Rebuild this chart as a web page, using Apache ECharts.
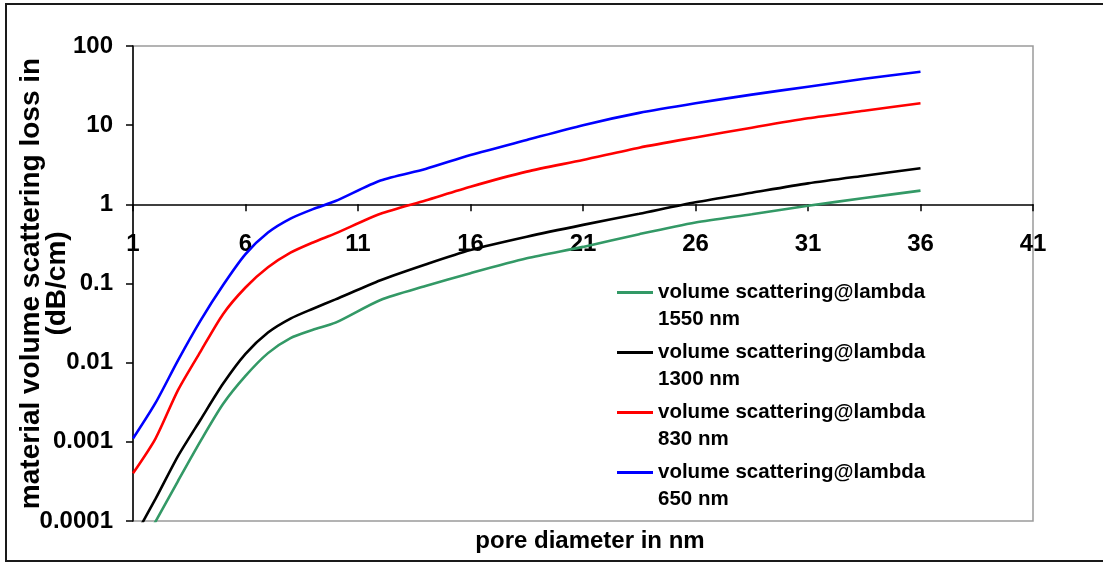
<!DOCTYPE html>
<html>
<head>
<meta charset="utf-8">
<script src="https://cdn.jsdelivr.net/npm/echarts@6/dist/echarts.min.js"></script>
<style>
  html, body { margin: 0; padding: 0; background: #ffffff; }
  #chart { width: 1103px; height: 563px; }
</style>
</head>
<body>
<div id="chart"></div>
<script>
// Pore diameter (nm) sample points
const poreDiameter = [1, 2, 3, 4, 5, 6, 7, 8, 9, 10, 12, 14, 16, 18.5, 21, 23.5, 26, 28.5, 31, 33.5, 36];

// Volume scattering loss (dB/cm) per wavelength
const loss1550 = [0.00003, 0.000098, 0.00032, 0.00102, 0.003, 0.0068, 0.0132, 0.0204, 0.026, 0.032, 0.062, 0.093, 0.135, 0.208, 0.29, 0.42, 0.59, 0.75, 0.96, 1.2, 1.49];
const loss1300 = [0.000058, 0.00019, 0.00066, 0.0019, 0.0054, 0.0129, 0.024, 0.036, 0.048, 0.063, 0.11, 0.174, 0.265, 0.39, 0.55, 0.76, 1.06, 1.4, 1.84, 2.3, 2.85];
const loss830 = [0.0004, 0.0011, 0.0045, 0.0138, 0.041, 0.089, 0.16, 0.245, 0.33, 0.43, 0.76, 1.12, 1.67, 2.59, 3.63, 5.2, 7.0, 9.3, 12.2, 15.2, 18.9];
const loss650 = [0.0011, 0.0031, 0.0107, 0.034, 0.095, 0.235, 0.44, 0.66, 0.87, 1.1, 2.0, 2.8, 4.2, 6.5, 10, 14.3, 18.9, 24.3, 30.6, 38.5, 47.4];

const seriesNames = [
  'volume scattering@lambda\n1550 nm',
  'volume scattering@lambda\n1300 nm',
  'volume scattering@lambda\n830 nm',
  'volume scattering@lambda\n650 nm'
];
const seriesValues = [loss1550, loss1300, loss830, loss650];
const seriesColors = ['#339966', '#000000', '#ff0000', '#0000ff'];

// Axis ranges
const xMin = 1, xMax = 41, xStep = 5;
const yMin = 0.0001, yMax = 100, yCross = 1;

const FONT = "'Liberation Sans', Arial, sans-serif";
const W = 1103, H = 563;
const gridBox = { left: 133, right: 70, top: 46, bottom: 42 };
const gridHeight = H - gridBox.top - gridBox.bottom;
// x axis sits where y = 1 on the log scale
const xAxisOffset = -gridHeight * (Math.log10(yCross) - Math.log10(yMin)) / (Math.log10(yMax) - Math.log10(yMin));

const chart = echarts.init(document.getElementById('chart'), null, { renderer: 'canvas' });

const series = seriesNames.map((name, i) => ({
  name: name,
  type: 'line',
  data: poreDiameter.map((x, j) => [x, seriesValues[i][j]]),
  showSymbol: false,
  symbol: 'none',
  smooth: 0.25,
  clip: true,
  lineStyle: { color: seriesColors[i], width: 2.6 },
  itemStyle: { color: seriesColors[i] },
  z: 3
}));

chart.setOption({
  animation: false,
  backgroundColor: '#ffffff',
  grid: {
    left: gridBox.left, right: gridBox.right, top: gridBox.top, bottom: gridBox.bottom,
    containLabel: false, outerBoundsMode: 'none',
    show: true, borderColor: '#9a9a9a', borderWidth: 1.5, backgroundColor: 'transparent'
  },
  xAxis: {
    type: 'value',
    min: xMin, max: xMax, interval: xStep,
    position: 'bottom',
    offset: xAxisOffset,
    axisLine: { onZero: false, lineStyle: { color: '#000000', width: 1.5 } },
    axisTick: { show: true, inside: false, length: 7, lineStyle: { color: '#000000', width: 1.5 } },
    axisLabel: { margin: 28, color: '#000000', fontFamily: FONT, fontWeight: 'bold', fontSize: 24 },
    splitLine: { show: false }
  },
  yAxis: {
    type: 'log',
    logBase: 10,
    min: yMin, max: yMax,
    axisLine: { show: true, lineStyle: { color: '#000000', width: 1.5 } },
    axisTick: { show: true, inside: false, length: 7, lineStyle: { color: '#000000', width: 1.5 } },
    axisLabel: {
      margin: 20, color: '#000000', fontFamily: FONT, fontWeight: 'bold', fontSize: 24,
      formatter: v => String(Number(v.toPrecision(1)))
    },
    splitLine: { show: false },
    name: 'material volume scattering loss in\n(dB/cm)',
    nameLocation: 'middle',
    nameRotate: 90,
    nameGap: 63,
    nameMoveOverlap: false,
    nameTextStyle: { color: '#000000', fontFamily: FONT, fontWeight: 'bold', fontSize: 28, lineHeight: 26, align: 'center' }
  },
  legend: {
    orient: 'vertical',
    left: 617,
    top: 252,
    padding: 0,
    itemGap: -21,
    itemWidth: 36,
    itemHeight: 3,
    icon: 'rect',
    data: seriesNames,
    // a leading spacer line keeps the swatch level with the first text line
    formatter: name => ' \n' + name,
    textStyle: { color: '#000000', fontFamily: FONT, fontWeight: 'bold', fontSize: 20.5, lineHeight: 27 }
  },
  graphic: [
    {
      type: 'rect', silent: true, z: 0,
      shape: { x: 6, y: 4, width: W + 20, height: H - 6 },
      style: { fill: 'none', stroke: '#1a1a1a', lineWidth: 2 }
    },
    {
      type: 'text', silent: true,
      x: 590, y: 541,
      style: {
        text: 'pore diameter in nm', fill: '#000000',
        font: "bold 24px 'Liberation Sans', Arial, sans-serif",
        textAlign: 'center', textVerticalAlign: 'middle'
      }
    }
  ],
  series: series
});
</script>
</body>
</html>
